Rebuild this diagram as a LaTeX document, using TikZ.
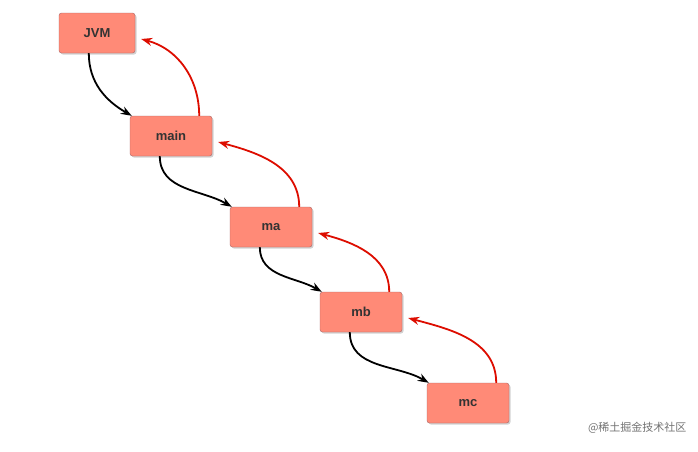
\documentclass[tikz,border=0pt]{standalone}
\usepackage{fontspec}
\setmainfont{Liberation Sans}
\newfontfamily\cjk{Noto Sans CJK SC}
\usetikzlibrary{arrows.meta,shadows}
\begin{document}
\begin{tikzpicture}[x=1pt,y=-1pt,
  fn/.style={draw=black!55!red!60,fill=red!45!white!85!orange,rounded corners=2.5pt,minimum width=82pt,minimum height=40pt,font=\bfseries\fontsize{13}{15}\selectfont,text=black!80,drop shadow={shadow xshift=1.5pt,shadow yshift=-1.5pt,opacity=0.35}},
  call/.style={line width=1.8pt,black,-{Stealth[length=11pt,width=8pt]}},
  ret/.style={line width=1.8pt,red!85!black!90!orange,-{Stealth[length=11pt,width=8pt]}}]
\useasboundingbox (0,0) rectangle (698,451);
\fill[white] (0,0) rectangle (698,451);
\node[fn,minimum width=76pt] (jvm) at (97,33) {JVM};
\node[fn] (main) at (171,136) {main};
\node[fn] (ma) at (271,227) {ma};
\node[fn] (mb) at (361,312) {mb};
\node[fn] (mc) at (468,403) {mc};
\foreach \a/\b in {jvm/main,main/ma,ma/mb,mb/mc}{
  \draw[call] ([xshift=30pt]\a.south west) to[out=-90,in=150] ([xshift=2pt]\b.north west);
  \draw[ret] ([xshift=-13pt]\b.north east) to[out=90,in=-15] ([xshift=6pt,yshift=-6pt]\a.east);
}
\node[text=black!55,font=\cjk\fontsize{11}{13}\selectfont,anchor=east] (wm) at (690,428) {@稀土掘金技术社区};
\end{tikzpicture}
\end{document}
